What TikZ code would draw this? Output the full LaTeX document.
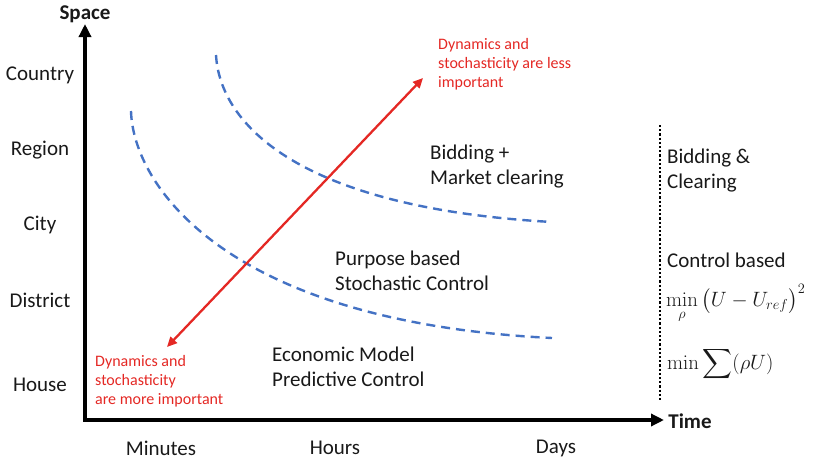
\documentclass[tikz,border=0pt]{standalone}
\usepackage{amsmath}
\usepackage[no-math]{fontspec}
\setmainfont{Carlito}
\usetikzlibrary{arrows.meta}
\definecolor{notered}{RGB}{228,40,36}
\definecolor{curveblue}{RGB}{68,114,196}

\begin{document}
\begin{tikzpicture}[x=1pt,y=-1pt]
        \tikzstyle{every node}=[font=\fontsize{21}{25}\selectfont, inner sep=0pt, text=black!90]
        \tikzstyle{axis}=[line width=3.8pt, {Triangle[length=13pt,width=12pt]}-{Triangle[length=13pt,width=12pt]}]
        \tikzstyle{region}=[align=left, anchor=west]
        \tikzstyle{note}=[align=left, anchor=west, text=notered, font=\fontsize{16}{19}\selectfont]
        \tikzstyle{formula}=[anchor=base west, font=\fontsize{22.5}{27}\selectfont]
        \tikzstyle{boundary}=[curveblue, line width=2.4pt, dash pattern=on 9pt off 6pt]
        \useasboundingbox (0,0) rectangle (819,463);
        % axes
        \coordinate (origin) at (85,420);
        \coordinate (ytip) at (85,24);
        \coordinate (xtip) at (664,420);
        \draw[axis] (ytip) -- (origin) -- (xtip);
        \node[font=\fontsize{21}{25}\selectfont\bfseries] (space) at (85,14) {Space};
        \node[font=\fontsize{21}{25}\selectfont\bfseries] (time) at (690,421) {Time};
        % space scale
        \node (country) at (40,75) {Country};
        \node (regionlbl) at (40,150) {Region};
        \node (city) at (40,225) {City};
        \node (district) at (40,300) {District};
        \node (house) at (40,385) {House};
        % time scale
        \node (minutes) at (161,448) {Minutes};
        \node (hours) at (335,448) {Hours};
        \node (days) at (556,448) {Days};
        % boundaries between approaches
        \coordinate (upstart) at (216,55);
        \coordinate (upend) at (552,222);
        \coordinate (lowstart) at (131,111);
        \coordinate (lowend) at (552,338);
        \draw[boundary] (upstart) .. controls (220,125) and (300,208) .. (upend);
        \draw[boundary] (lowstart) .. controls (133,185) and (225,322) .. (lowend);
        % importance arrow
        \coordinate (lowtip) at (167,347);
        \coordinate (hightip) at (423,78);
        \draw[notered, line width=2.3pt, {Triangle[length=10pt,width=9pt]}-{Triangle[length=10pt,width=9pt]}] (lowtip) -- (hightip);
        \node[note] (less) at (438,64) {Dynamics and\\stochasticity are less\\important};
        \node[note] (more) at (95,381) {Dynamics and\\stochasticity\\are more important};
        % approaches
        \node[region] (bidding) at (430,167) {Bidding +\\Market clearing};
        \node[region] (purpose) at (335,271) {Purpose based\\Stochastic Control};
        \node[region] (economic) at (272,367) {Economic Model\\Predictive Control};
        % objectives
        \coordinate (septop) at (660,125);
        \coordinate (sepbot) at (660,402);
        \draw[line width=2.2pt, dotted] (septop) -- (sepbot);
        \node[region] (clearing) at (667,171) {Bidding \&\\Clearing};
        \node[region] (control) at (667,260) {Control based};
        \node[formula, font=\fontsize{20.5}{25}\selectfont] (minsquare) at (666,306) {$\displaystyle\min_{\rho}\,\bigl(U-U_{ref}\bigr)^2$};
        \node[formula] (minsum) at (667,369) {$\displaystyle\min\sum(\rho U)$};
\end{tikzpicture}
\end{document}
